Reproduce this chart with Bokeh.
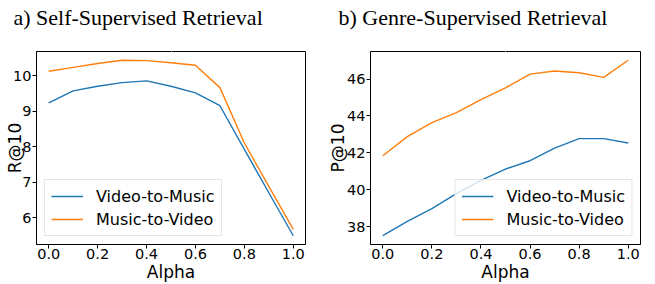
from bokeh.plotting import figure
from bokeh.layouts import row
from bokeh.models import (Legend, LegendItem, FixedTicker, PrintfTickFormatter, Range1d,
                          LinearAxis)
from bokeh.embed import file_html
from bokeh.resources import INLINE

# ---- data ----
alpha = [0.0, 0.1, 0.2, 0.3, 0.4, 0.5, 0.6, 0.7, 0.8, 0.9, 1.0]
self_v2m = [9.23, 9.57, 9.70, 9.80, 9.85, 9.70, 9.51, 9.15, 7.92, 6.70, 5.49]
self_m2v = [10.12, 10.23, 10.34, 10.43, 10.42, 10.36, 10.29, 9.66, 8.10, 6.88, 5.67]
genre_v2m = [37.50, 38.28, 38.97, 39.78, 40.50, 41.12, 41.57, 42.25, 42.77, 42.77, 42.53]
genre_m2v = [41.84, 42.88, 43.64, 44.18, 44.88, 45.52, 46.27, 46.44, 46.34, 46.09, 47.02]
x_ticks = [0.0, 0.2, 0.4, 0.6, 0.8, 1.0]
self_yticks = [6, 7, 8, 9, 10]
genre_yticks = [38, 40, 42, 44, 46]
series_names = ["Video-to-Music", "Music-to-Video"]
colors = ["#1f77b4", "#ff7f0e"]
titles = ["a) Self-Supervised Retrieval", "b) Genre-Supervised Retrieval"]
ylabels = ["R@10", "P@10"]
xlabel = "Alpha"


def pad_range(vals, frac=0.05):
    lo, hi = min(vals), max(vals)
    d = (hi - lo) * frac
    return Range1d(lo - d, hi + d)


def make_panel(width, border_left, border_right, v2m, m2v, yticks, title, ylabel,
               title_dx, ylabel_standoff, legend_loc):
    p = figure(width=width, height=284, output_backend="svg", toolbar_location=None,
               min_border_left=border_left, min_border_right=border_right,
               min_border_top=51, min_border_bottom=39,
               x_range=Range1d(-0.05, 1.05), y_range=pad_range(v2m + m2v))
    p.xgrid.visible = False
    p.ygrid.visible = False
    p.outline_line_color = "black"
    p.outline_line_width = 1
    p.background_fill_color = "white"
    p.border_fill_color = "white"
    xaxis = p.below[0]
    yaxis = p.left[0]

    # invisible spacer axis (white tick, 1px white label) between the frame and the title
    spacer = LinearAxis(ticker=FixedTicker(ticks=[0.5]), major_tick_out=18, major_tick_in=0,
                        minor_tick_out=0, minor_tick_in=0, major_label_standoff=0,
                        major_label_text_font_size="1px", major_label_text_color="white",
                        axis_line_color=None, major_tick_line_color="white",
                        minor_tick_line_color=None)
    p.add_layout(spacer, "above")

    p.title.text = title
    p.title.text_font = "Liberation Serif"
    p.title.text_font_size = "22px"
    p.title.text_font_style = "normal"
    p.title.text_color = "black"
    p.title.align = "left"
    p.title.offset = title_dx
    p.title.standoff = 0

    r1 = p.line(alpha, v2m, line_color=colors[0], line_width=1.4)
    r2 = p.line(alpha, m2v, line_color=colors[1], line_width=1.4)

    for ax in (xaxis, yaxis):
        ax.major_tick_out = 4
        ax.major_tick_in = 0
        ax.minor_tick_out = 0
        ax.minor_tick_in = 0
        ax.major_label_text_font = "DejaVu Sans"
        ax.major_label_text_font_size = "14.5px"
        ax.major_label_text_color = "black"
        ax.axis_line_color = "black"
        ax.major_tick_line_color = "black"
        ax.axis_label_text_font = "DejaVu Sans"
        ax.axis_label_text_font_size = "17px"
        ax.axis_label_text_font_style = "normal"
        ax.axis_label_text_color = "black"
    xaxis.ticker = FixedTicker(ticks=x_ticks)
    xaxis.formatter = PrintfTickFormatter(format="%.1f")
    xaxis.major_label_standoff = 0
    xaxis.axis_label = xlabel
    xaxis.axis_label_standoff = 0
    yaxis.ticker = FixedTicker(ticks=yticks)
    yaxis.major_label_standoff = 1
    yaxis.axis_label = ylabel
    yaxis.axis_label_standoff = ylabel_standoff

    legend = Legend(items=[LegendItem(label=series_names[0], renderers=[r1]),
                           LegendItem(label=series_names[1], renderers=[r2])],
                    location=legend_loc, margin=8, padding=6, spacing=3,
                    glyph_width=32, glyph_height=20, label_height=20,
                    label_standoff=13, label_text_font="DejaVu Sans",
                    label_text_font_size="16px", label_text_color="black",
                    border_line_color="#cccccc", border_line_width=1,
                    background_fill_color="white", background_fill_alpha=0.8)
    p.add_layout(legend, "center")
    return p


p1 = make_panel(325, 36, 20, self_v2m, self_m2v, self_yticks, titles[0], ylabels[0],
                -23, -15, "bottom_left")
p2 = make_panel(330, 45, 15, genre_v2m, genre_m2v, genre_yticks, titles[1], ylabels[1],
                -32, -4, "bottom_right")

layout = row(p1, p2)
open("out.html", "w").write(file_html(layout, INLINE))
